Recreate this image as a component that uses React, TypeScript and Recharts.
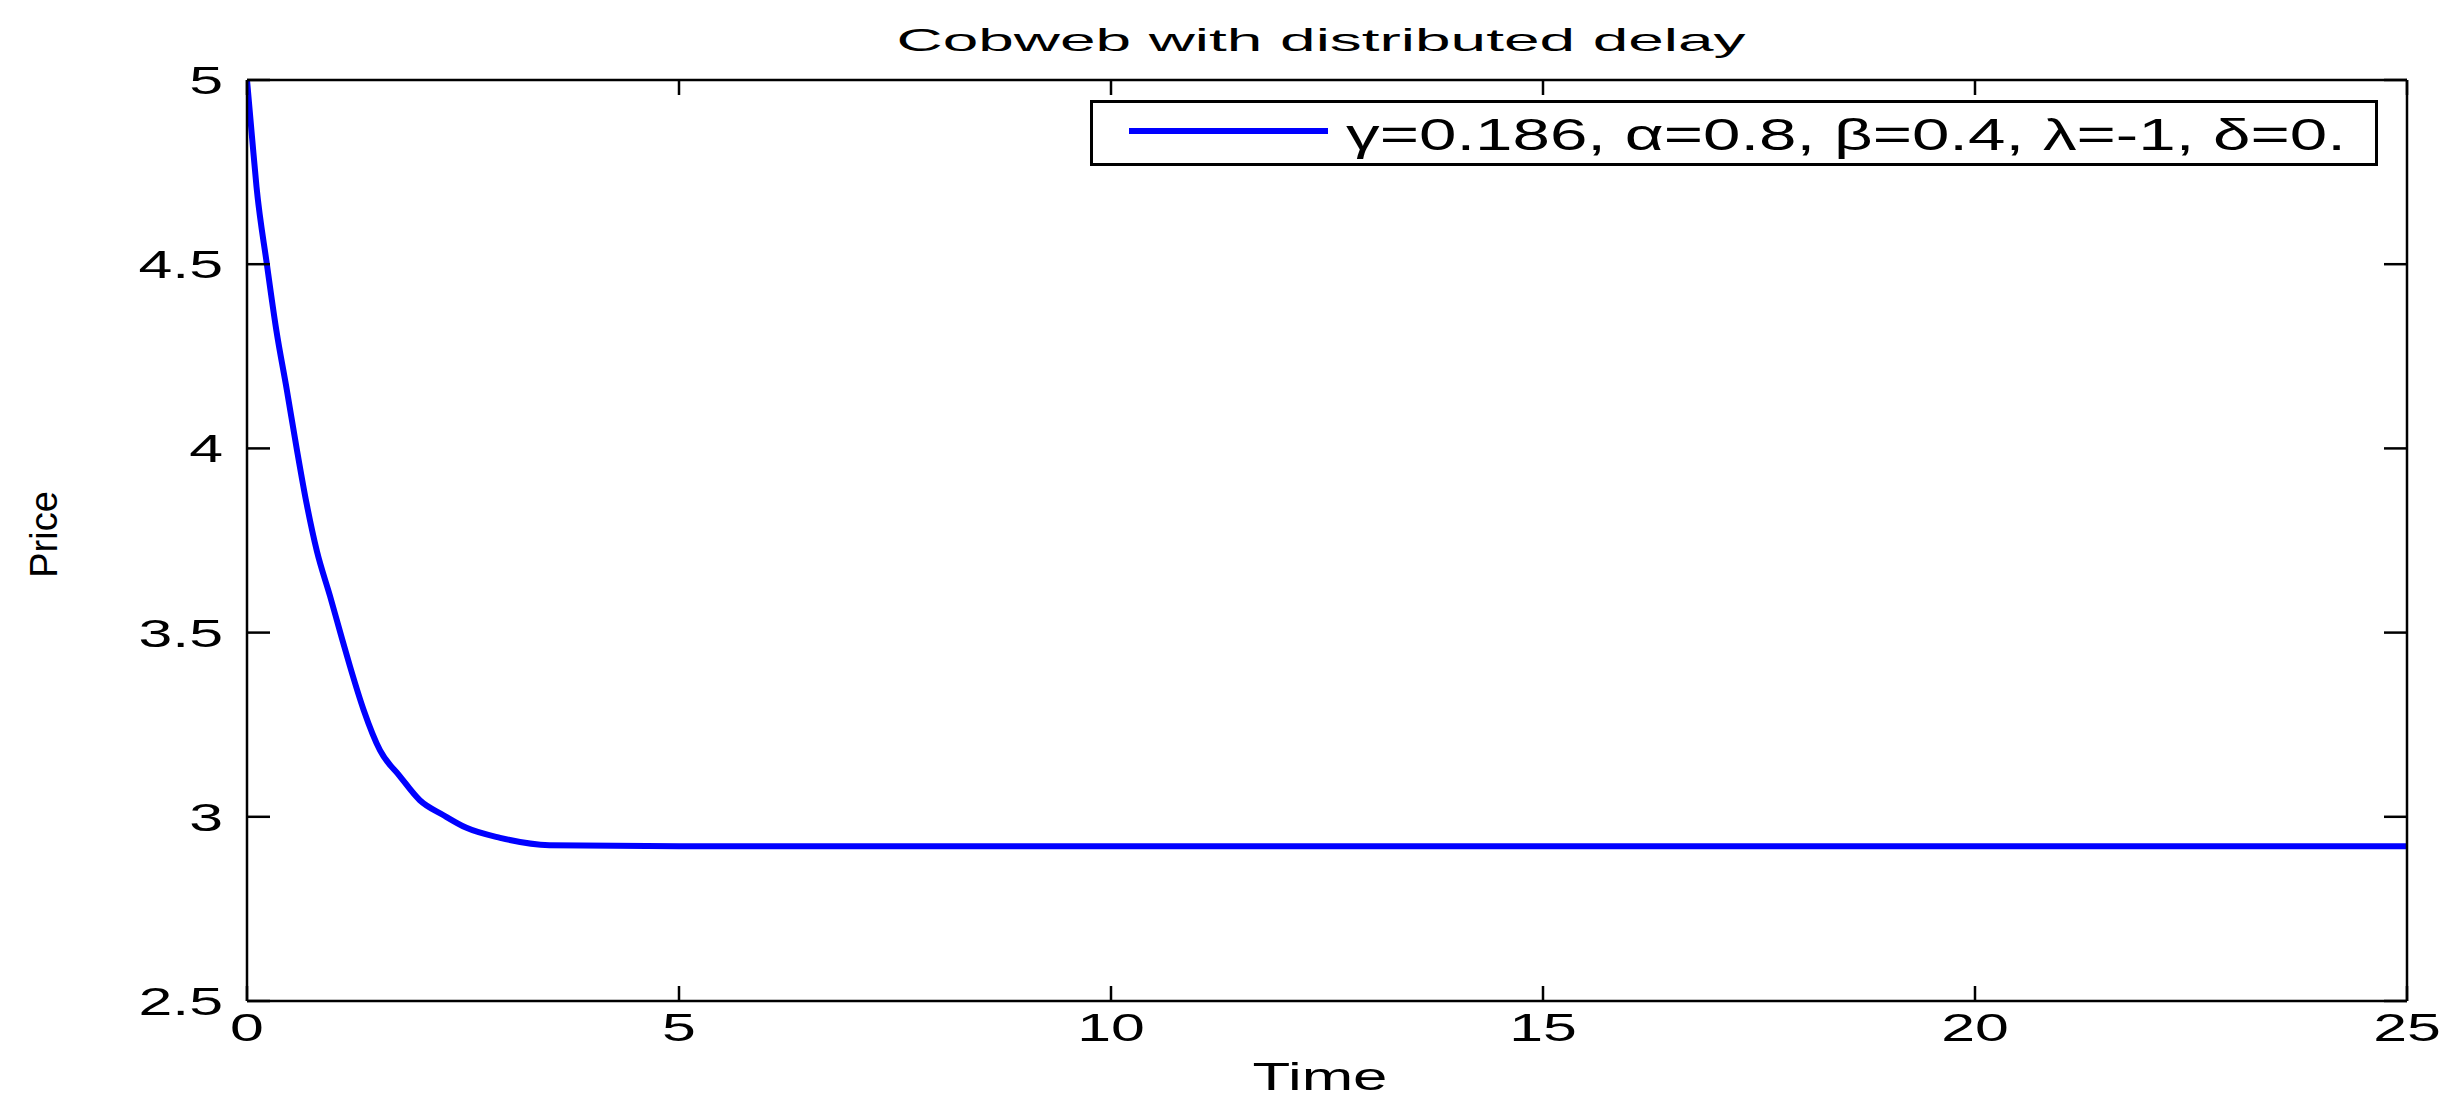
import React from "react"
import { Label, Legend, Line, LineChart, XAxis, YAxis } from "recharts"

// readings
const TIME = [0, 0.06, 0.11, 0.23, 0.34, 0.46, 0.575, 0.69, 0.81, 0.96, 1.08, 1.19, 1.35, 1.54, 1.77, 2.0, 2.27, 2.54, 2.93, 3.5, 5, 10, 15, 20, 25]
const PRICE = [5.0, 4.84, 4.71, 4.5, 4.32, 4.16, 4.0, 3.85, 3.72, 3.6, 3.5, 3.41, 3.29, 3.18, 3.11, 3.045, 3.005, 2.97, 2.943, 2.923, 2.92, 2.92, 2.92, 2.92, 2.92]

const X_TICKS = [0, 5, 10, 15, 20, 25]
const Y_TICKS = [2.5, 3, 3.5, 4, 4.5, 5]

const TITLE = "Cobweb with distributed delay"
const X_LABEL = "Time"
const Y_LABEL = "Price"
const SERIES_NAME = "γ=0.186, α=0.8, β=0.4, λ=-1, δ=0."

const data = TIME.map((t, i) => ({ t, price: PRICE[i] }))

const FONT = "'Liberation Sans', Arial, Helvetica, sans-serif"
const SX = 1.6
const X_TICK_LEN = 15
const Y_TICK_LEN = 23
const AXIS_W = 2.5

// matlab style: ticks point into the plot, labels stretched wide
function BottomTick(props: any) {
  const { x, y, payload } = props
  return (
    <g>
      <line x1={x} x2={x} y1={y - 11} y2={y - 11 - X_TICK_LEN} stroke="#000" strokeWidth={AXIS_W} />
      <text transform={`translate(${x},${y}) scale(${SX},1)`} textAnchor="middle" dy={29} fontSize={38} fontFamily={FONT} fill="#000">
        {payload.value}
      </text>
    </g>
  )
}

function LeftTick(props: any) {
  const { x, y, payload } = props
  return (
    <g>
      <line x1={x + 24} x2={x + 24 + Y_TICK_LEN} y1={y} y2={y} stroke="#000" strokeWidth={AXIS_W} />
      <text transform={`translate(${x},${y}) scale(${SX},1)`} textAnchor="end" dy={14} fontSize={38} fontFamily={FONT} fill="#000">
        {payload.value}
      </text>
    </g>
  )
}

function TopTick(props: any) {
  const { x, y } = props
  return <line x1={x} x2={x} y1={y} y2={y + X_TICK_LEN} stroke="#000" strokeWidth={AXIS_W} />
}

function RightTick(props: any) {
  const { x, y } = props
  return <line x1={x} x2={x - Y_TICK_LEN} y1={y} y2={y} stroke="#000" strokeWidth={AXIS_W} />
}

function LegendBox() {
  return (
    <svg width={1288} height={66} style={{ display: "block" }}>
      <rect x={1.5} y={1.5} width={1285} height={63} fill="#fff" stroke="#000" strokeWidth={3} />
      <line x1={39} x2={238} y1={31} y2={31} stroke="#0000ff" strokeWidth={6} />
      <text x={256} y={50} fontSize={44} fontFamily={FONT} fill="#000" textLength={1000} lengthAdjust="spacingAndGlyphs">
        {SERIES_NAME}
      </text>
    </svg>
  )
}

export default function App() {
  return (
    <div style={{ position: "absolute", left: 0, top: 0, width: 2456, height: 1119, background: "#fff" }}>
      <LineChart width={2456} height={1119} data={data} margin={{ top: 79, right: 48, bottom: 0, left: 0 }}>
        <XAxis
          dataKey="t"
          type="number"
          domain={[0, 25]}
          ticks={X_TICKS}
          interval={0}
          allowDataOverflow
          height={118}
          tickLine={false}
          tickSize={0}
          tickMargin={11}
          tick={<BottomTick />}
          stroke="#000"
          strokeWidth={AXIS_W}
        >
          <Label
            content={(p: any) => {
              const vb = p.viewBox
              return (
                <text x={vb.x + vb.width / 2 - 7} y={1090} textAnchor="middle" fontSize={38} fontFamily={FONT} fill="#000" textLength={135} lengthAdjust="spacingAndGlyphs">
                  {X_LABEL}
                </text>
              )
            }}
          />
        </XAxis>
        <XAxis
          xAxisId="top"
          orientation="top"
          dataKey="t"
          type="number"
          domain={[0, 25]}
          ticks={X_TICKS}
          interval={0}
          allowDataOverflow
          height={1}
          tickLine={false}
          tickSize={0}
          tickMargin={0}
          tick={<TopTick />}
          stroke="#000"
          strokeWidth={AXIS_W}
        >
          <Label
            content={(p: any) => {
              const vb = p.viewBox
              return (
                <text x={vb.x + vb.width / 2 - 6} y={51} textAnchor="middle" fontSize={32} fontFamily={FONT} fill="#000" textLength={849} lengthAdjust="spacingAndGlyphs">
                  {TITLE}
                </text>
              )
            }}
          />
        </XAxis>
        <YAxis
          dataKey="price"
          type="number"
          domain={[2.5, 5]}
          ticks={Y_TICKS}
          interval={0}
          allowDataOverflow
          width={247}
          tickLine={false}
          tickSize={0}
          tickMargin={24}
          tick={<LeftTick />}
          stroke="#000"
          strokeWidth={AXIS_W}
        >
          <Label
            content={(p: any) => {
              const vb = p.viewBox
              const cy = vb.y + vb.height / 2 - 6
              return (
                <text x={57} y={cy} transform={`rotate(-90, 57, ${cy})`} textAnchor="middle" fontSize={38} fontFamily={FONT} fill="#000">
                  {Y_LABEL}
                </text>
              )
            }}
          />
        </YAxis>
        <YAxis
          yAxisId="right"
          orientation="right"
          dataKey="price"
          type="number"
          domain={[2.5, 5]}
          ticks={Y_TICKS}
          interval={0}
          allowDataOverflow
          width={1}
          tickLine={false}
          tickSize={0}
          tickMargin={0}
          tick={<RightTick />}
          stroke="#000"
          strokeWidth={AXIS_W}
        />
        <Legend
          layout="horizontal"
          verticalAlign="middle"
          align="center"
          content={() => <LegendBox />}
          wrapperStyle={{ left: 1090, top: 100, width: 1288, height: 66 }}
        />
        <Line
          type="monotone"
          dataKey="price"
          name={SERIES_NAME}
          stroke="#0000ff"
          strokeWidth={6}
          dot={false}
          isAnimationActive={false}
        />
      </LineChart>
    </div>
  )
}
